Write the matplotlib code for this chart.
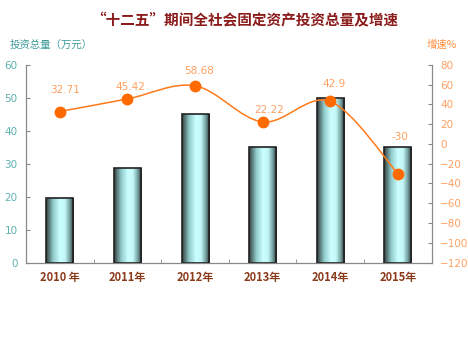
import numpy as np
import matplotlib
matplotlib.use("Agg")
import matplotlib.pyplot as plt
from matplotlib.path import Path
from matplotlib.patches import PathPatch, Rectangle
from matplotlib.colors import LinearSegmentedColormap

plt.rcParams['font.family'] = ['Noto Sans CJK SC', 'DejaVu Sans']

years = ['2010 年', '2011年', '2012年', '2013年', '2014年', '2015年']
investment = [19.6, 28.6, 45.2, 35.0, 50.0, 35.0]
growth = [32.71, 45.42, 58.68, 22.22, 42.9, -30]
growth_labels = ['32.71', '45.42', '58.68', '22.22', '42.9', '-30']

# label offsets from the points, in pixels (as placed in the original)
lab_dx = [5, 3, 4, 7, 4, 2]
lab_dy = [22, 12, 15, 12, 17, 37]

fig = plt.figure(figsize=(4.68, 3.37), dpi=100)
ax = fig.add_axes([0.0556, 0.2205, 0.8668, 0.5875])
ax2 = ax.twinx()

x = np.arange(len(years))

# bars with gradient fill
cmap = LinearSegmentedColormap.from_list('bar', [
    (0.0, '#34403f'), (0.25, '#8fc9c9'), (0.5, '#ccffff'),
    (0.68, '#c4f8f8'), (0.85, '#7aa6a6'), (1.0, '#2c3434')])
grad = np.linspace(0, 1, 64).reshape(1, -1)
w = 0.4
for xi, v in zip(x, investment):
    rect = Rectangle((xi - w / 2, 0), w, v, facecolor='none',
                     edgecolor='#222222', linewidth=1.2, zorder=3)
    ax.add_patch(rect)
    im = ax.imshow(grad, cmap=cmap, aspect='auto', zorder=2,
                   extent=(xi - w / 2, xi + w / 2, 0, v))
    im.set_clip_path(rect)
ax.set_xlim(-0.5, len(years) - 0.5)
ax.set_ylim(0, 60)
ax2.set_ylim(-120, 80)

# smoothed growth line (Catmull-Rom style bezier through the data points)
pts = np.column_stack([x, growth]).astype(float)
verts = [tuple(pts[0])]
codes = [Path.MOVETO]
for i in range(len(pts) - 1):
    p0 = pts[i - 1] if i > 0 else pts[i]
    p1 = pts[i]
    p2 = pts[i + 1]
    p3 = pts[i + 2] if i + 2 < len(pts) else pts[i + 1]
    c1 = p1 + (p2 - p0) / 6
    c2 = p2 - (p3 - p1) / 6
    verts += [tuple(c1), tuple(c2), tuple(p2)]
    codes += [Path.CURVE4] * 3
ax2.add_patch(PathPatch(Path(verts, codes), facecolor='none',
                        edgecolor='#ff7a1a', linewidth=1.1, zorder=4))
ax2.plot(x, growth, 'o', color='#ff6a00', markersize=7.5, zorder=5)
for xi, g, lab, dx, dy in zip(x, growth, growth_labels, lab_dx, lab_dy):
    ax2.annotate(lab, (xi, g), xytext=(dx, dy), textcoords='offset pixels',
                 ha='center', va='center', fontsize=7.5,
                 color='#ffa060', family=['DejaVu Sans'])

# axes styling
for a in (ax, ax2):
    a.spines['top'].set_visible(False)
    for s in ('left', 'right', 'bottom'):
        a.spines[s].set_color('#888888')
ax.set_yticks(range(0, 61, 10))
ax2.set_yticks(range(-120, 81, 20))
ax.tick_params(axis='y', direction='in', length=3, colors='#888888',
               labelcolor='#5fb0b0', labelsize=7.5, pad=6)
ax2.tick_params(axis='y', direction='in', length=3, colors='#888888',
                labelcolor='#ffa060', labelsize=7.5, pad=6)
for t in ax.get_yticklabels() + ax2.get_yticklabels():
    t.set_family('DejaVu Sans')
ax.set_xticks(x)
ax.set_xticklabels(years, fontsize=8, color='#8b3a1a', fontweight='bold')
ax.set_xticks(np.arange(0.5, len(years) - 1, 1), minor=True)
ax.tick_params(axis='x', which='major', length=0, pad=6)
ax.tick_params(axis='x', which='minor', direction='in', length=3, colors='#888888')

fig.text(0.523, 0.94, '“十二五”期间全社会固定资产投资总量及增速', ha='center',
         va='center', fontsize=10.5, fontweight='bold', color='#8b1a1a')
fig.text(0.02, 0.866, '投资总量（万元）', ha='left', va='center',
         fontsize=7.5, color='#3f9a9a')
fig.text(0.977, 0.866, '增速%', ha='right', va='center',
         fontsize=7.5, color='#ff8c3a')

fig.savefig('out.png', dpi=100)
